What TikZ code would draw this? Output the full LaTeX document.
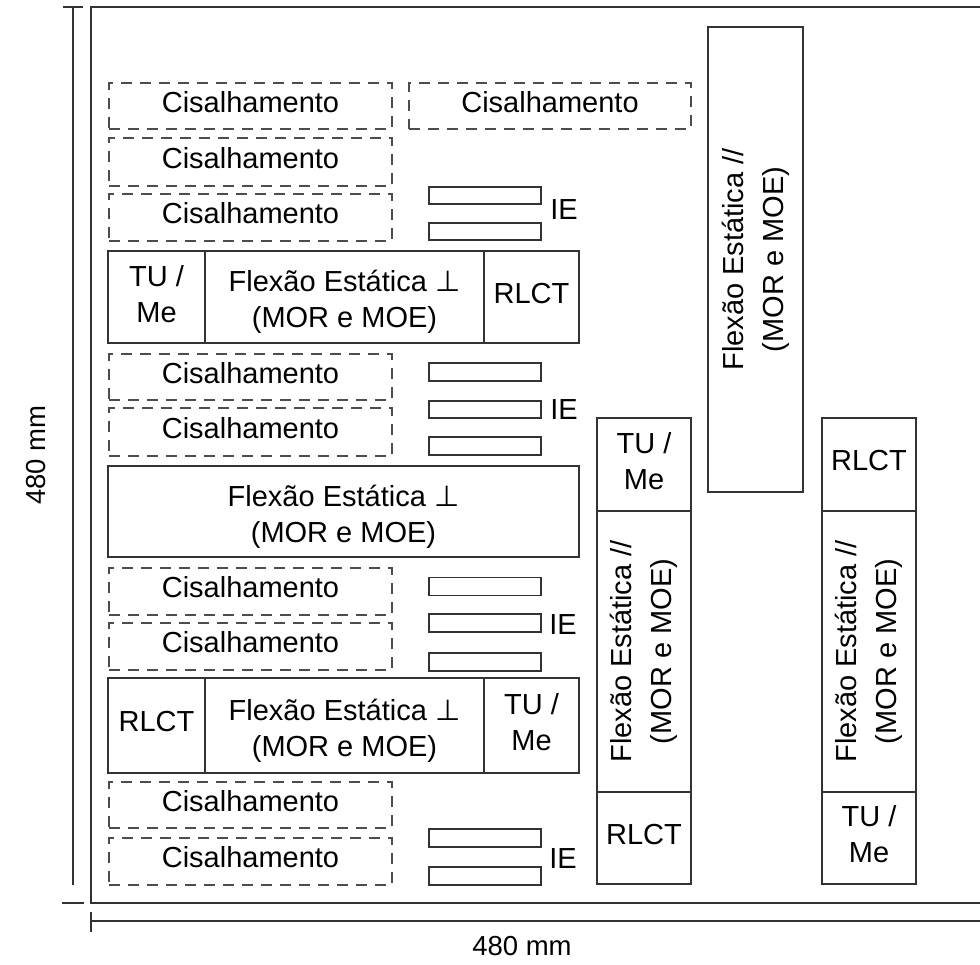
\documentclass[tikz,border=0pt]{standalone}
\usepackage{fontspec}
\setmainfont{Liberation Sans}
\newfontfamily\symfont{DejaVu Sans}
\begin{document}
\begin{tikzpicture}[x=1pt,y=-1pt,
  lab/.style={font=\fontsize{29}{36}\selectfont, text=black, align=center, inner sep=0pt},
  dimtext/.style={lab, font=\fontsize{27.5}{33}\selectfont},
  boxtext/.style={lab, text depth=8pt},
  flextext/.style={lab, text height=68pt, text depth=6pt},
  rottext/.style={lab, font=\fontsize{29}{40}\selectfont, rotate=90},
  solidline/.style={draw=black!80, line width=1.8pt},
  dashbox/.style={boxtext, draw=black!70, line width=1.8pt, dash pattern=on 11pt off 8pt},
  cis/.style={dashbox, text depth=9pt, minimum width=283pt, minimum height=47pt},
  ierect/.style={lab, solidline, minimum width=112pt, minimum height=18pt},
  dimline/.style={draw=black!80, line width=1.8pt}]
\useasboundingbox (0,0) rectangle (980,965);
\fill[white] (0,0) rectangle (980,965);
% frame
\coordinate (ftr) at (980,7);
\coordinate (ftl) at (91,7);
\coordinate (fbl) at (91,903);
\coordinate (fbr) at (980,903);
\draw[dimline] (ftr) -- (ftl) -- (fbl) -- (fbr);
% left dimension
\coordinate (ldt) at (73,7);
\coordinate (ldb) at (73,885);
\coordinate (lt1) at (63,7);
\coordinate (lt2) at (83,7);
\coordinate (lb1) at (62,903);
\coordinate (lb2) at (84,903);
\draw[dimline] (ldt) -- (ldb);
\draw[dimline] (lt1) -- (lt2);
\draw[dimline] (lb1) -- (lb2);
% bottom dimension
\coordinate (bd1) at (91,921);
\coordinate (bd2) at (980,921);
\coordinate (bt1) at (91,912);
\coordinate (bt2) at (91,932);
\draw[dimline] (bd1) -- (bd2);
\draw[dimline] (bt1) -- (bt2);
\node[dimtext, rotate=90] (dimv) at (36,455) {480 mm};
\node[dimtext] (dimh) at (522,946) {480 mm};
% shear specimens
\node[cis, minimum height=46pt] (cisA) at (250.5,106) {Cisalhamento};
\node[cis, minimum height=48pt] (cisB) at (250.5,162) {Cisalhamento};
\node[cis] (cisC) at (250.5,217.5) {Cisalhamento};
\node[cis, minimum width=282pt, minimum height=46pt] (cisT) at (550,106) {Cisalhamento};
\node[cis, minimum height=46pt] (cisD) at (250.5,377) {Cisalhamento};
\node[cis, minimum height=48pt] (cisE) at (250.5,432) {Cisalhamento};
\node[cis] (cisF) at (250.5,591.5) {Cisalhamento};
\node[cis] (cisG) at (250.5,646.5) {Cisalhamento};
\node[cis, minimum height=46pt] (cisH) at (250.5,805) {Cisalhamento};
\node[cis] (cisI) at (250.5,861.5) {Cisalhamento};
% IE specimens
\node[ierect, minimum height=17pt] (ie1a) at (485,195.5) {};
\node[ierect, minimum height=17pt] (ie1b) at (485,231.5) {};
\node[lab] (ie1) at (564,210) {IE};
\node[ierect] (ie2a) at (485,372) {};
\node[ierect, minimum height=17pt] (ie2b) at (485,409.5) {};
\node[ierect] (ie2c) at (485,446) {};
\node[lab] (ie2) at (564,410) {IE};
\node[ierect] (ie3a) at (485,586.5) {};
\node[ierect] (ie3b) at (485,623) {};
\node[ierect] (ie3c) at (485,662) {};
\node[lab] (ie3) at (563,625) {IE};
\node[ierect] (ie4a) at (485,838) {};
\node[ierect] (ie4b) at (485,876) {};
\node[lab] (ie4) at (563,859) {IE};
% static bending perpendicular rows
\node[boxtext, solidline, text depth=6pt, minimum width=97pt, minimum height=92pt] (r1a) at (156.5,297) {TU /\\Me};
\node[flextext, solidline, minimum width=279pt, minimum height=92pt] (r1b) at (344.5,297) {Flexão Estática {\symfont ⊥}\\(MOR e MOE)};
\node[boxtext, solidline, minimum width=95pt, minimum height=92pt] (r1c) at (531.5,297) {RLCT};
\node[flextext, solidline, minimum width=471pt, minimum height=91pt] (r2) at (343.5,511.5) {Flexão Estática {\symfont ⊥}\\(MOR e MOE)};
\node[boxtext, solidline, minimum width=97pt, minimum height=95pt] (r3a) at (156.5,725.5) {RLCT};
\node[flextext, solidline, minimum width=279pt, minimum height=95pt] (r3b) at (344.5,725.5) {Flexão Estática {\symfont ⊥}\\(MOR e MOE)};
\node[boxtext, solidline, minimum width=95pt, minimum height=95pt] (r3c) at (531.5,725.5) {TU /\\Me};
% tall parallel bending
\node[rottext, solidline, minimum width=465pt, minimum height=95pt] (tall) at (755.5,259.5) {Flexão Estática //\\(MOR e MOE)};
% column 2
\node[boxtext, solidline, minimum width=94pt, minimum height=93pt] (c2a) at (644,464.5) {TU /\\Me};
\node[rottext, solidline, minimum width=281pt, minimum height=94pt] (c2b) at (644,651.5) {Flexão Estática //\\(MOR e MOE)};
\node[boxtext, solidline, minimum width=94pt, minimum height=92pt] (c2c) at (644,838) {RLCT};
% column 3
\node[boxtext, solidline, minimum width=94pt, minimum height=93pt] (c3a) at (869,464.5) {RLCT};
\node[rottext, solidline, minimum width=281pt, minimum height=94pt] (c3b) at (869,651.5) {Flexão Estática //\\(MOR e MOE)};
\node[boxtext, solidline, minimum width=94pt, minimum height=92pt] (c3c) at (869,838) {TU /\\Me};
\end{tikzpicture}
\end{document}
